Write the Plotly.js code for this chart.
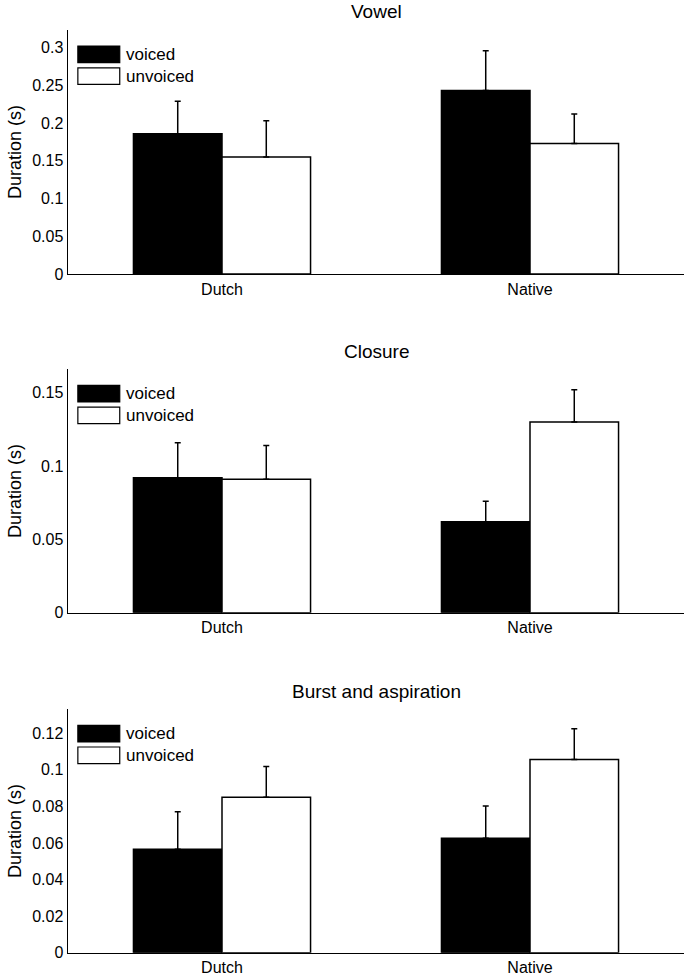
<!DOCTYPE html>
<html>
<head>
<meta charset="utf-8">
<script src="https://cdn.plot.ly/plotly-3.0.1.min.js"></script>
<style>
  html, body { margin: 0; padding: 0; background: #fff; }
  #chart { width: 686px; height: 976px; }
</style>
</head>
<body>
<div id="chart"></div>
<script>
// categories and panel names
var groups = ['Dutch', 'Native'];
var panelTitles = ['Vowel', 'Closure', 'Burst and aspiration'];
var seriesNames = ['voiced', 'unvoiced'];

// mean durations (s) and upper error bars
var vowelVoiced = [0.186, 0.243];
var vowelVoicedErr = [0.043, 0.053];
var vowelUnvoiced = [0.155, 0.173];
var vowelUnvoicedErr = [0.048, 0.039];

var closureVoiced = [0.092, 0.062];
var closureVoicedErr = [0.024, 0.014];
var closureUnvoiced = [0.091, 0.130];
var closureUnvoicedErr = [0.023, 0.022];

var burstVoiced = [0.0565, 0.0626];
var burstVoicedErr = [0.0206, 0.0176];
var burstUnvoiced = [0.085, 0.1056];
var burstUnvoicedErr = [0.0168, 0.0168];

// y tick labels for each panel
var vowelTicks = [0, 0.05, 0.1, 0.15, 0.2, 0.25, 0.3];
var vowelTickText = ['0', '0.05', '0.1', '0.15', '0.2', '0.25', '0.3'];
var closureTicks = [0, 0.05, 0.1, 0.15];
var closureTickText = ['0', '0.05', '0.1', '0.15'];
var burstTicks = [0, 0.02, 0.04, 0.06, 0.08, 0.1, 0.12];
var burstTickText = ['0', '0.02', '0.04', '0.06', '0.08', '0.1', '0.12'];

var panels = [
  {voiced: vowelVoiced, vErr: vowelVoicedErr, unvoiced: vowelUnvoiced, uErr: vowelUnvoicedErr,
   ticks: vowelTicks, tickText: vowelTickText, yMax: 0.3234, domain: [0.7193, 0.9693]},
  {voiced: closureVoiced, vErr: closureVoicedErr, unvoiced: closureUnvoiced, uErr: closureUnvoicedErr,
   ticks: closureTicks, tickText: closureTickText, yMax: 0.166, domain: [0.3722, 0.6216]},
  {voiced: burstVoiced, vErr: burstVoicedErr, unvoiced: burstUnvoiced, uErr: burstUnvoicedErr,
   ticks: burstTicks, tickText: burstTickText, yMax: 0.1331, domain: [0.0239, 0.2733]}
];

var FONT = 'Liberation Sans, Arial, Helvetica, sans-serif';
var zeros = groups.map(function () { return 0; });

var data = [];
var layout = {
  width: 686,
  height: 976,
  margin: {l: 68, r: 2, t: 0, b: 0},
  paper_bgcolor: '#fff',
  plot_bgcolor: '#fff',
  showlegend: false,
  barmode: 'group',
  bargap: 0.425,
  bargroupgap: 0,
  font: {family: FONT, size: 16, color: '#000'},
  annotations: [],
  shapes: []
};

panels.forEach(function (p, i) {
  var n = i === 0 ? '' : String(i + 1);
  var xa = 'x' + n, ya = 'y' + n;

  data.push({
    type: 'bar', name: seriesNames[0], x: groups, y: p.voiced,
    xaxis: xa, yaxis: ya,
    marker: {color: '#000', line: {color: '#000', width: 1.5}},
    error_y: {type: 'data', symmetric: false, array: p.vErr, arrayminus: zeros,
              color: '#000', thickness: 1.5, width: 3}
  });
  data.push({
    type: 'bar', name: seriesNames[1], x: groups, y: p.unvoiced,
    xaxis: xa, yaxis: ya,
    marker: {color: '#fff', line: {color: '#000', width: 1.5}},
    error_y: {type: 'data', symmetric: false, array: p.uErr, arrayminus: zeros,
              color: '#000', thickness: 1.5, width: 3}
  });

  layout['xaxis' + n] = {
    domain: [0, 1], anchor: ya, type: 'category',
    range: [-0.5, 1.5],
    showline: true, linecolor: '#000', linewidth: 1.5,
    ticks: '', showgrid: false, zeroline: false,
    tickfont: {size: 16}, fixedrange: true
  };
  layout['yaxis' + n] = {
    domain: p.domain, anchor: xa,
    range: [0, p.yMax],
    tickvals: p.ticks, ticktext: p.tickText,
    showline: true, linecolor: '#000', linewidth: 1.5,
    ticks: '', showgrid: false, zeroline: false,
    tickfont: {size: 16},
    title: {text: 'Duration (s)', font: {size: 18}, standoff: 6},
    fixedrange: true
  };

  // panel title
  layout.annotations.push({
    text: panelTitles[i], xref: xa + ' domain', yref: ya + ' domain',
    x: 0.5, y: 1, yshift: 18, yanchor: 'middle', xanchor: 'center',
    showarrow: false, font: {size: 19}
  });

  // legend drawn to match the large swatches of the original
  var swatches = [
    {fill: '#000', y0: 0.866, y1: 0.934},
    {fill: '#fff', y0: 0.777, y1: 0.845}
  ];
  swatches.forEach(function (s, k) {
    layout.shapes.push({
      type: 'rect', xref: xa + ' domain', yref: ya + ' domain',
      x0: 0.016, x1: 0.084, y0: s.y0, y1: s.y1,
      fillcolor: s.fill, line: {color: '#000', width: 1.2}
    });
    layout.annotations.push({
      text: seriesNames[k], xref: xa + ' domain', yref: ya + ' domain',
      x: 0.091, y: (s.y0 + s.y1) / 2, xanchor: 'left', yanchor: 'middle',
      showarrow: false, font: {size: 17}
    });
  });
});

Plotly.newPlot('chart', data, layout, {displayModeBar: false, staticPlot: true});
</script>
</body>
</html>
